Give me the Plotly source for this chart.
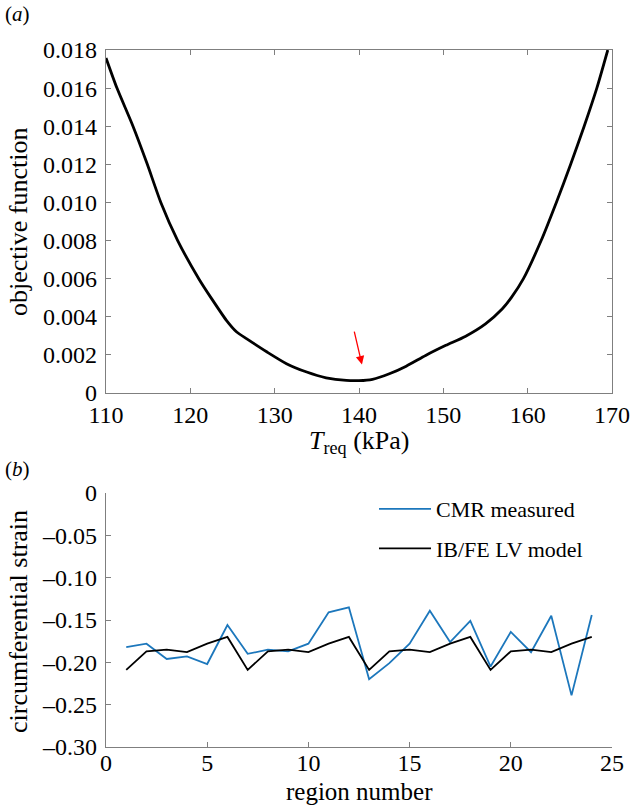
import plotly.graph_objects as go

# ---- panel (a) data ----
t_req = [110, 111.3, 113.2, 114.9, 116.5, 118.5, 121.0, 122.6, 124.3, 125.5, 126.7,
         129.1, 131.4, 133.8, 136.1, 138.5, 140.0, 141.6, 143.6, 145.6, 147.9,
         150.3, 152.6, 155.0, 157.0, 158.1, 159.5, 161.6, 163.4, 165.1, 166.7,
         168.2, 169.5]
objective = [0.01758, 0.016, 0.014, 0.012, 0.010, 0.008, 0.006, 0.0049, 0.0038, 0.0032,
             0.00284, 0.00215, 0.00154, 0.0011, 0.0008, 0.00066, 0.00065, 0.00072,
             0.00101, 0.00141, 0.00197, 0.0025, 0.00297, 0.00363, 0.00442, 0.00503,
             0.006, 0.008, 0.010, 0.012, 0.014, 0.016, 0.018]
a_xticks = [110, 120, 130, 140, 150, 160, 170]
a_yticks = [0, 0.002, 0.004, 0.006, 0.008, 0.010, 0.012, 0.014, 0.016, 0.018]
a_yticklabels = ["0", "0.002", "0.004", "0.006", "0.008", "0.010", "0.012", "0.014", "0.016", "0.018"]
arrow_tail = (139.4, 0.00330)
arrow_head = (140.35, 0.00150)

# ---- panel (b) data ----
region = list(range(1, 25))
cmr_measured = [-0.182, -0.178, -0.196, -0.193, -0.202, -0.156, -0.190, -0.185,
                -0.187, -0.178, -0.141, -0.135, -0.220, -0.201, -0.178, -0.139,
                -0.176, -0.151, -0.205, -0.164, -0.188, -0.145, -0.239, -0.144]
ibfe_model = [-0.209, -0.187, -0.185, -0.188, -0.178, -0.170,
              -0.209, -0.187, -0.185, -0.188, -0.178, -0.170,
              -0.209, -0.187, -0.185, -0.188, -0.178, -0.170,
              -0.209, -0.187, -0.185, -0.188, -0.178, -0.170]
b_xticks = [0, 5, 10, 15, 20, 25]
b_yticks = [0, -0.05, -0.10, -0.15, -0.20, -0.25, -0.30]
b_yticklabels = ["0", "–0.05", "–0.10", "–0.15", "–0.20", "–0.25", "–0.30"]

W, H = 632, 806
FONT = "Liberation Serif, Times New Roman, serif"
AX = "#7f7f7f"
BLUE = "#1c77bc"
TICK = 24
TITLE = 26

def px(xp):
    return xp / W

def py(yp):
    return 1 - yp / H

fig = go.Figure()
fig.add_trace(go.Scatter(x=t_req, y=objective, mode="lines",
                         line=dict(color="black", width=2.8, shape="spline", smoothing=0.6),
                         showlegend=False, xaxis="x", yaxis="y"))
fig.add_trace(go.Scatter(x=region, y=cmr_measured, mode="lines", name="CMR measured",
                         legendgroup="g1",
                         line=dict(color=BLUE, width=1.8), xaxis="x2", yaxis="y2"))
fig.add_trace(go.Scatter(x=region, y=ibfe_model, mode="lines", name="IB/FE LV model",
                         legendgroup="g2",
                         line=dict(color="black", width=1.8), xaxis="x2", yaxis="y2"))

common = dict(showgrid=False, zeroline=False, linecolor=AX, linewidth=1.2,
              ticks="inside", ticklen=5, tickcolor=AX, tickwidth=1, automargin=False,
              tickfont=dict(family=FONT, size=TICK, color="black"))

fig.update_layout(
    width=W, height=H, margin=dict(l=0, r=0, t=0, b=0),
    paper_bgcolor="white", plot_bgcolor="white",
    font=dict(family=FONT, size=TICK, color="black"),
    xaxis=dict(domain=[px(106), px(612)], range=[110, 170], tickvals=a_xticks,
               mirror="ticks", showline=True, anchor="y", **common),
    yaxis=dict(domain=[py(393), py(50)], range=[0, 0.018], tickvals=a_yticks,
               ticktext=a_yticklabels, mirror="ticks", showline=True, anchor="x",
               ticklabelstandoff=3, **common),
    xaxis2=dict(domain=[px(106), px(612)], range=[0, 25], tickvals=b_xticks,
                showline=True, anchor="y2", ticklabelstandoff=-6, **common),
    yaxis2=dict(domain=[py(747), py(493)], range=[-0.30, 0], tickvals=b_yticks,
                ticktext=b_yticklabels, showline=True, anchor="x2",
                ticklabelstandoff=3, **common),
    legend=dict(x=px(374), y=py(488), xanchor="left", yanchor="top",
                bgcolor="rgba(0,0,0,0)", font=dict(family=FONT, size=22),
                tracegroupgap=8, itemwidth=52),
    showlegend=True,
)

# axis titles
fig.add_annotation(x=px(359), y=py(442), xref="paper", yref="paper",
                   text="<i>T</i><sub>req</sub> (kPa)", showarrow=False,
                   xanchor="center", yanchor="middle", font=dict(family=FONT, size=TITLE))
fig.add_annotation(x=px(18), y=py(222), xref="paper", yref="paper",
                   text="objective function", showarrow=False, textangle=-90,
                   xanchor="center", yanchor="middle", font=dict(family=FONT, size=TITLE))
fig.add_annotation(x=px(359), y=py(791), xref="paper", yref="paper",
                   text="region number", showarrow=False,
                   xanchor="center", yanchor="middle", font=dict(family=FONT, size=25))
fig.add_annotation(x=px(18), y=py(622), xref="paper", yref="paper",
                   text="circumferential strain", showarrow=False, textangle=-90,
                   xanchor="center", yanchor="middle", font=dict(family=FONT, size=TITLE))

fig.add_annotation(x=arrow_head[0], y=arrow_head[1], ax=arrow_tail[0], ay=arrow_tail[1],
                   xref="x", yref="y", axref="x", ayref="y", text="", showarrow=True,
                   arrowhead=2, arrowsize=1.3, arrowwidth=1.3, arrowcolor="red")
fig.add_annotation(x=px(3), y=py(14), xref="paper", yref="paper", text="(<i>a</i>)",
                   showarrow=False, xanchor="left", yanchor="middle",
                   font=dict(family=FONT, size=21))
fig.add_annotation(x=px(3), y=py(469), xref="paper", yref="paper", text="(<i>b</i>)",
                   showarrow=False, xanchor="left", yanchor="middle",
                   font=dict(family=FONT, size=21))

fig.write_html("out.html", config={"displayModeBar": False},
               post_script="document.body.style.margin='0';document.body.style.overflow='hidden';")
